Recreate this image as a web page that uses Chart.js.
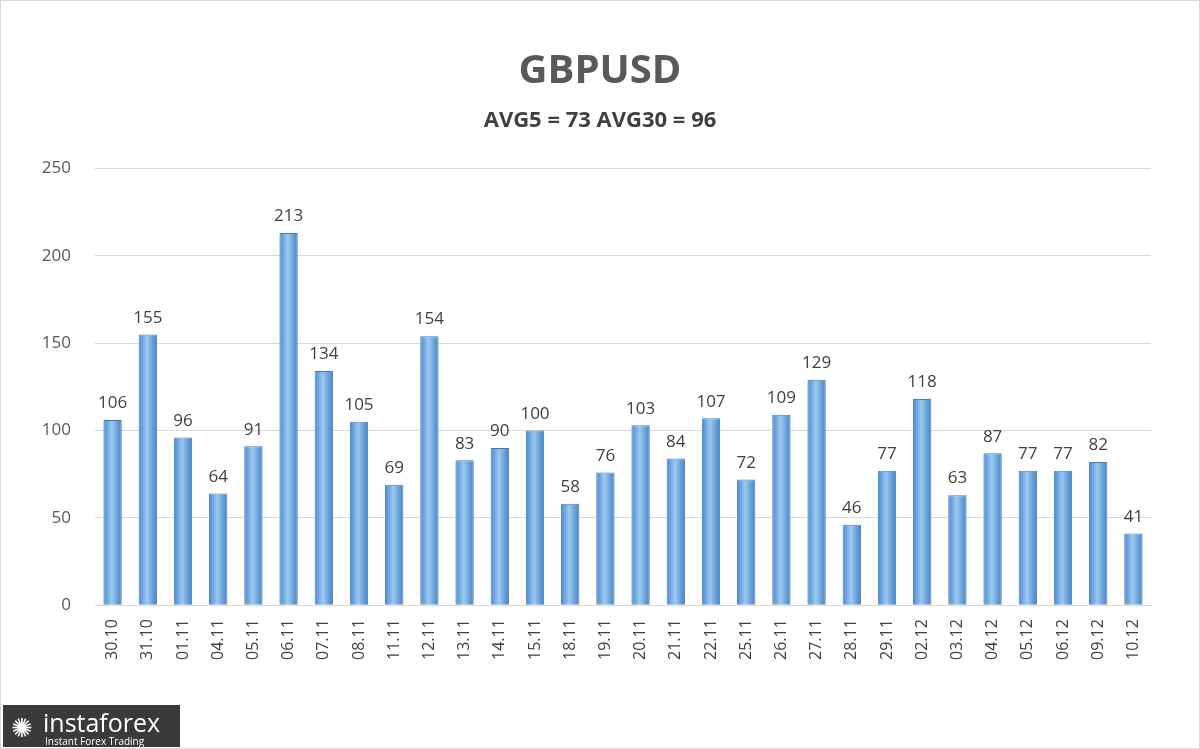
<!DOCTYPE html>
<html><head><meta charset="utf-8">
<script src="https://cdn.jsdelivr.net/npm/chart.js@4"></script>
<style>
html,body{margin:0;padding:0;background:#fff;}
#wrap{position:relative;width:1200px;height:749px;box-sizing:border-box;border:1px solid #d9d9d9;}
#logo{position:absolute;left:2px;top:704px;width:177px;height:42px;background:#3a3a3a;color:#fff;font-family:"Open Sans",sans-serif;}
</style></head><body>
<div id="wrap"><canvas id="c" width="1198" height="747"></canvas>
<div id="logo"><div style="position:absolute;left:8px;top:4px;font-size:26px;">✺</div><div style="position:absolute;left:40px;top:0px;font-size:25px;">instaforex</div><div style="position:absolute;left:42px;top:29px;font-size:10px;">Instant Forex Trading</div></div>
</div>
<script>
const categories=["30.10","31.10","01.11","04.11","05.11","06.11","07.11","08.11","11.11","12.11","13.11","14.11","15.11","18.11","19.11","20.11","21.11","22.11","25.11","26.11","27.11","28.11","29.11","02.12","03.12","04.12","05.12","06.12","09.12","10.12"];
const values=[106,155,96,64,91,213,134,105,69,154,83,90,100,58,76,103,84,107,72,109,129,46,77,118,63,87,77,77,82,41];
const yTicks=[0,50,100,150,200,250];
const labelPlugin={id:'lbl',afterDatasetsDraw(chart){const ctx=chart.ctx;const meta=chart.getDatasetMeta(0);ctx.save();ctx.font='17px "Open Sans", sans-serif';ctx.fillStyle='#404040';ctx.textAlign='center';ctx.textBaseline='bottom';meta.data.forEach((b,i)=>{ctx.fillText(values[i],b.x,b.y-8);});ctx.restore();}};
const ctx=document.getElementById('c').getContext('2d');
new Chart(ctx,{type:'bar',data:{labels:categories,datasets:[{data:values,
backgroundColor:(c)=>{const sx=c.chart.scales&&c.chart.scales.x;const x=sx?sx.getPixelForValue(c.dataIndex):NaN;if(!Number.isFinite(x))return '#5b9bd5';const g=c.chart.ctx.createLinearGradient(x-9,0,x+9,0);g.addColorStop(0,'#4a8ad0');g.addColorStop(0.45,'#9cc8f2');g.addColorStop(1,'#4584c6');return g;},
borderColor:'#3f7fbf',borderWidth:1,barPercentage:0.52,categoryPercentage:1}]},
options:{responsive:false,animation:false,layout:{padding:{left:0,right:0,top:12,bottom:82}},
plugins:{legend:{display:false},tooltip:{enabled:false},
title:{display:true,text:'GBPUSD',font:{family:'"Open Sans", sans-serif',size:40,weight:'bold'},color:'#595959',padding:{top:35,bottom:12}},
subtitle:{display:true,text:'AVG5 = 73 AVG30 = 96',font:{family:'"Open Sans", sans-serif',size:22,weight:'bold'},color:'#404040',padding:{bottom:34}}},
scales:{y:{min:0,max:250,afterBuildTicks:(a)=>{a.ticks=yTicks.map(v=>({value:v}));},afterFit:(s)=>{s.width=94;},ticks:{color:'#595959',font:{family:'"Open Sans", sans-serif',size:17},padding:24},grid:{color:'#d9d9d9',drawTicks:false},border:{display:false}},
y2:{position:'right',min:0,max:250,afterFit:(s)=>{s.width=48;},ticks:{display:false},grid:{display:false},border:{display:false}},
x:{ticks:{color:'#404040',font:{family:'"Open Sans", sans-serif',size:16},maxRotation:90,minRotation:90,autoSkip:false,padding:6},grid:{display:false},border:{color:'#d9d9d9'}}}},
plugins:[labelPlugin]});
</script></body></html>
